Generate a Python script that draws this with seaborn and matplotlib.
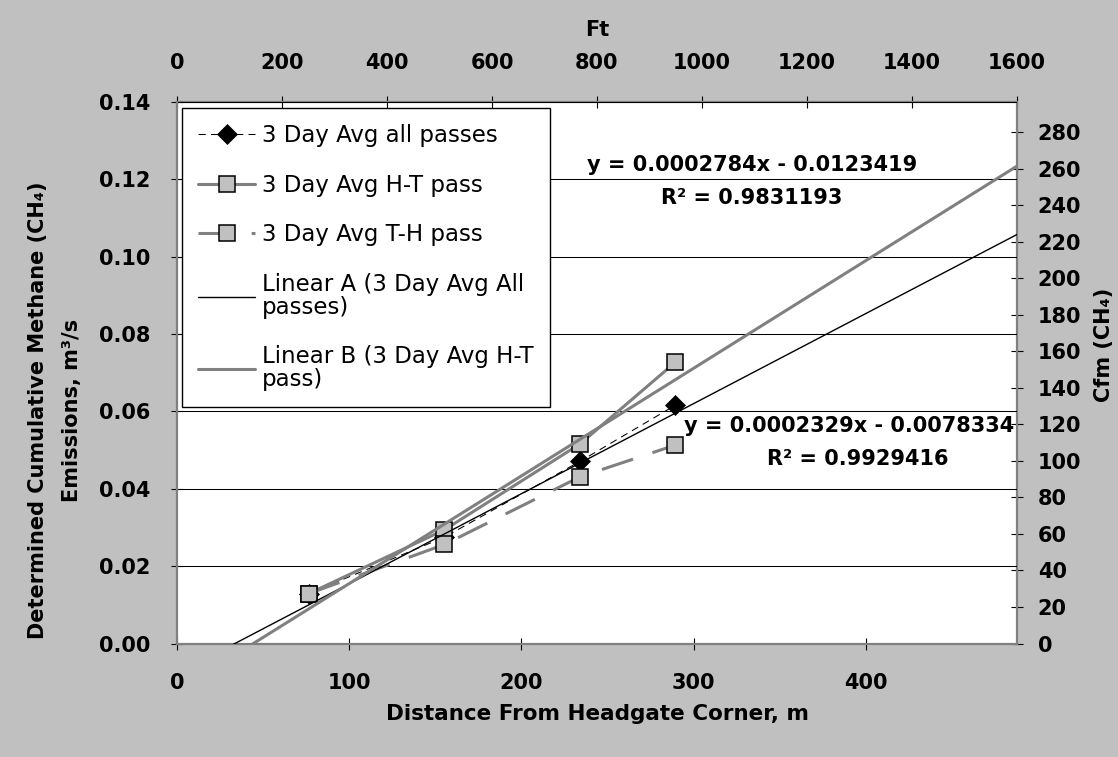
import matplotlib
matplotlib.use("Agg")
import matplotlib.pyplot as plt
import seaborn as sns

# measured points along the face (m) and 3-day average emissions (m3/s)
dist_m = [76.5, 155.3, 234.0, 289.3]
avg_all = [0.0129, 0.0275, 0.0471, 0.0616]
avg_ht = [0.0129, 0.0294, 0.0516, 0.0727]
avg_th = [0.0129, 0.0256, 0.0431, 0.0513]

# trendlines as printed on the chart: slope, intercept, r2
trend_a = (0.0002329, -0.0078334, 0.9929416)
trend_b = (0.0002784, -0.0123419, 0.9831193)

m_ticks = [0, 100, 200, 300, 400]
y_ticks = [0.00, 0.02, 0.04, 0.06, 0.08, 0.10, 0.12, 0.14]
ft_ticks = [0, 200, 400, 600, 800, 1000, 1200, 1400, 1600]
cfm_ticks = [0, 20, 40, 60, 80, 100, 120, 140, 160, 180, 200, 220, 240, 260, 280]

M_TO_FT = 3.28084
M3S_TO_CFM = 2118.88
x_max = 1600 / M_TO_FT

sns.set_style("white")
plt.rcParams["font.family"] = ["DejaVu Sans"]
plt.rcParams["font.weight"] = "bold"
plt.rcParams["axes.labelweight"] = "bold"
plt.rcParams["text.color"] = "black"
plt.rcParams["axes.labelcolor"] = "black"
plt.rcParams["xtick.color"] = "black"
plt.rcParams["ytick.color"] = "black"

GRAY = "#808080"
BG = "#c0c0c0"

fig = plt.figure(figsize=(11.18, 7.57), dpi=100, facecolor=BG)
ax = fig.add_axes([177 / 1118, (757 - 643.5) / 757, 840 / 1118, 541.5 / 757])
ax.set_facecolor("white")

# data series
sns.lineplot(x=dist_m, y=avg_all, ax=ax, color="black", linewidth=0.75,
             linestyle=(0, (7, 5)), marker="D", markersize=10,
             markerfacecolor="black", markeredgecolor="black", markeredgewidth=0.5,
             label="3 Day Avg all passes", zorder=3)
sns.lineplot(x=dist_m, y=avg_ht, ax=ax, color=GRAY, linewidth=2.2,
             marker="s", markersize=11, markerfacecolor=BG,
             markeredgecolor="black", markeredgewidth=1.1,
             label="3 Day Avg H-T pass", zorder=3)
sns.lineplot(x=dist_m, y=avg_th, ax=ax, color=GRAY, linewidth=2.2,
             linestyle=(0, (10.7, 6.7)), marker="s", markersize=11,
             markerfacecolor=BG, markeredgecolor="black", markeredgewidth=1.1,
             label="3 Day Avg T-H pass", zorder=3)

# linear trendlines across the whole axis
tx = [0, x_max]
sns.lineplot(x=tx, y=[trend_a[0] * v + trend_a[1] for v in tx], ax=ax,
             color="black", linewidth=1.0,
             label="Linear A (3 Day Avg All\npasses)", zorder=4)
sns.lineplot(x=tx, y=[trend_b[0] * v + trend_b[1] for v in tx], ax=ax,
             color=GRAY, linewidth=2.2,
             label="Linear B (3 Day Avg H-T\npass)", zorder=4)

ax.set_xlim(0, x_max)
ax.set_ylim(0, 0.14)
ax.set_xticks(m_ticks)
ax.set_xticklabels([str(t) for t in m_ticks])
ax.set_yticks(y_ticks)
ax.set_yticklabels([f"{t:.2f}" for t in y_ticks])
ax.grid(axis="y", color="black", linewidth=0.75)
ax.grid(axis="x", visible=False)
ax.set_axisbelow(True)

for side in ["top", "right"]:
    ax.spines[side].set_visible(False)
for side in ["left", "bottom"]:
    ax.spines[side].set_color(GRAY)
    ax.spines[side].set_linewidth(1.6)
ax.tick_params(axis="both", direction="inout", length=8, width=0.8,
               color="black", labelsize=15, left=True, bottom=True)
ax.tick_params(axis="y", pad=15)
ax.tick_params(axis="x", pad=17)

ax.set_xlabel("Distance From Headgate Corner, m", fontsize=15.5, labelpad=8)
ax.set_ylabel("Determined Cumulative Methane (CH₄)\nEmissions, m³/s",
              fontsize=15, linespacing=1.9)
ax.yaxis.set_label_coords(-0.113, 0.431)

top = ax.secondary_xaxis("top", functions=(lambda m: m * M_TO_FT, lambda f: f / M_TO_FT))
top.set_xticks(ft_ticks)
top.set_xticklabels([str(t) for t in ft_ticks])
top.tick_params(direction="inout", length=8, width=0.8, labelsize=15, pad=17)
top.spines["top"].set_color(GRAY)
top.spines["top"].set_linewidth(1.6)
top.set_xlabel("Ft", fontsize=15, labelpad=12)

right = ax.secondary_yaxis("right", functions=(lambda q: q * M3S_TO_CFM, lambda c: c / M3S_TO_CFM))
right.set_yticks(cfm_ticks)
right.set_yticklabels([str(t) for t in cfm_ticks])
right.tick_params(direction="inout", length=8, width=0.8, labelsize=15, pad=11)
right.spines["right"].set_color(GRAY)
right.spines["right"].set_linewidth(1.6)
fig.text(1104 / 1118, (757 - 345) / 757, "Cfm (CH₄)", rotation=90,
         ha="center", va="center", fontsize=15)

# trendline equations
ax.text(333.8, 0.1222, f"y = {trend_b[0]:.7f}x - {abs(trend_b[1]):.7f}",
        ha="center", va="baseline", fontsize=15, zorder=5)
ax.text(333.8, 0.1136, f"R² = {trend_b[2]:.7f}",
        ha="center", va="baseline", fontsize=15, zorder=5)
ax.text(390.4, 0.0548, f"y = {trend_a[0]:.7f}x - {abs(trend_a[1]):.7f}",
        ha="center", va="baseline", fontsize=15, zorder=5, clip_on=False)
ax.text(395.0, 0.0462, f"R² = {trend_a[2]:.7f}",
        ha="center", va="baseline", fontsize=15, zorder=5)

handles, labels = ax.get_legend_handles_labels()
leg = ax.legend(handles, labels, loc="upper left", bbox_to_anchor=(0.006, 0.989),
                borderaxespad=0, frameon=True, fancybox=False, framealpha=1,
                edgecolor="black", prop={"size": 16.5, "weight": "normal"},
                handlelength=2.5, handletextpad=0.3, borderpad=0.7,
                labelspacing=1.16, numpoints=1)
for t in leg.get_texts():
    t.set_linespacing(1.0)
leg.get_frame().set_linewidth(1.0)
leg.set_zorder(6)

fig.savefig("out.png", dpi=100, facecolor=BG)
